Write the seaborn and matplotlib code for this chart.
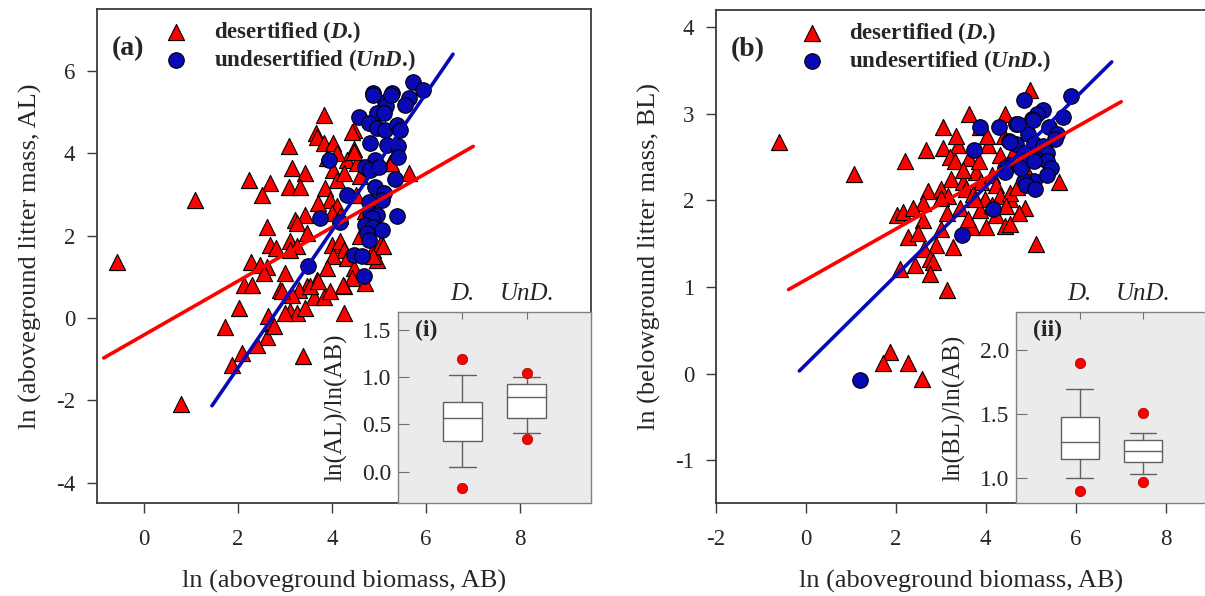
import numpy as np
import pandas as pd
import matplotlib
matplotlib.use("Agg")
import matplotlib.pyplot as plt
import seaborn as sns

# ---------------- data ----------------
# Panel (a): ln(AB) vs ln(AL)
a_des_x = [1.10, 3.82, 3.65, 3.68, 3.82, 4.03, 4.46, 3.08, 4.46, 3.15, 3.43, 2.23, 2.69, 3.08, 3.33,
           2.51, 3.86, 4.03, 4.32, 4.11, 4.25, 4.53, 4.60, 5.63, 5.24, 3.96, 4.11, 4.00, 4.18, 3.43,
           3.22, 3.26, 2.62, 3.47, 3.11, 2.69, 2.80, 3.26, 3.11, 4.00, 4.18, 4.25, 4.03, 4.32, 4.88,
           5.03, 4.96, 2.27, 2.62, 2.48, 2.55, 3.01, 3.89, 4.46, 4.42, 4.71, 2.12, 2.30, 3.68, 3.47,
           3.29, 2.90, 3.15, 3.61, 3.82, 3.96, 4.25, 2.02, 3.11, 3.26, 3.43, 4.25, 1.73, 2.65, 2.73,
           2.62, 2.41, 2.09, 1.87, 2.77, 3.38, 3.01, 0.80, -0.56, 4.43, 4.47, 5.25, 5.08, 4.88, 3.54,
           3.70, 4.23, 2.93, 4.70, 4.60, 4.50, 3.70, 3.90, 4.10]
a_des_y = [2.87, 4.93, 4.49, 4.41, 4.25, 4.25, 4.57, 4.17, 4.10, 3.64, 3.52, 3.36, 3.28, 3.19, 3.19,
           2.99, 3.16, 3.60, 3.84, 3.36, 3.52, 3.76, 3.44, 3.52, 3.76, 2.87, 2.71, 2.55, 2.47, 2.51,
           2.39, 2.30, 2.22, 2.06, 1.86, 1.78, 1.70, 1.74, 1.65, 1.78, 1.86, 1.66, 1.50, 1.46, 1.66,
           1.82, 1.42, 1.37, 1.25, 1.29, 1.10, 1.09, 1.21, 1.21, 0.97, 0.85, 0.81, 0.81, 0.93, 0.77,
           0.69, 0.69, 0.57, 0.52, 0.52, 0.65, 0.77, 0.24, 0.16, 0.12, 0.24, 0.12, -0.22, 0.04, -0.12,
           -0.45, -0.65, -0.85, -1.13, -0.20, -0.93, 0.12, -2.08, 1.37, 4.53, 4.04, 3.76, 1.74, 1.50, 0.77,
           0.89, 0.81, 0.65, 2.60, 2.00, 3.00, 2.80, 3.90, 4.00]
a_und_x = [5.73, 5.94, 4.87, 5.27, 5.13, 5.15, 5.63, 5.56, 4.96, 5.10, 4.57, 4.78, 4.96, 5.13, 5.38,
           5.45, 4.81, 5.17, 5.41, 5.41, 3.93, 4.92, 4.71, 4.81, 4.99, 5.33, 4.92, 4.32, 5.10, 5.06,
           4.78, 4.81, 4.96, 5.38, 3.75, 4.18, 4.85, 4.71, 4.88, 5.06, 4.74, 4.78, 3.48, 4.46, 4.64,
           4.67, 5.25, 4.88]
a_und_y = [5.74, 5.54, 5.46, 5.46, 5.26, 5.15, 5.34, 5.18, 4.98, 4.98, 4.89, 4.73, 4.61, 4.57, 4.69,
           4.57, 4.25, 4.21, 4.17, 3.92, 3.84, 3.84, 3.68, 3.60, 3.68, 3.38, 3.19, 2.99, 3.03, 2.87,
           2.83, 2.55, 2.51, 2.49, 2.42, 2.34, 2.43, 2.26, 2.22, 2.14, 2.06, 1.90, 1.26, 1.54, 1.50,
           1.01, 5.42, 5.42]
a_fit_des_x = [-0.85, 7.00]
a_fit_des_y = [-0.97, 4.17]
a_fit_und_x = [1.45, 6.57]
a_fit_und_y = [-2.13, 6.41]

# Panel (b): ln(AB) vs ln(BL)
b_des_x = [-0.59, 1.08, 2.20, 4.98, 5.11, 3.14, 1.87, 1.72, 2.27, 2.58, 3.05, 3.64, 4.42, 2.68, 3.05,
           3.39, 3.20, 3.31, 3.87, 4.06, 4.02, 4.31, 3.64, 3.24, 3.50, 3.79, 3.90, 4.13, 4.24, 2.72,
           3.01, 3.16, 3.00, 3.57, 3.72, 3.98, 4.31, 4.53, 4.53, 2.61, 2.02, 2.16, 2.38, 2.61, 3.13,
           3.42, 3.87, 4.24, 4.46, 4.87, 3.76, 3.01, 3.69, 4.01, 4.42, 4.53, 2.27, 2.50, 2.90, 3.27,
           2.64, 2.76, 2.83, 2.42, 2.09, 2.76, 5.62, 4.40, 4.60, 4.90, 5.30, 4.70, 3.50, 3.35, 3.85,
           3.60, 4.15, 4.75]
b_des_y = [2.68, 2.30, 2.45, 3.28, 1.50, 0.97, 0.25, 0.12, 0.12, -0.06, 2.85, 3.00, 3.00, 2.58, 2.60,
           2.64, 2.50, 2.46, 2.85, 2.64, 2.74, 2.53, 2.49, 2.25, 2.21, 2.33, 2.21, 2.29, 2.18, 2.11,
           2.13, 2.05, 2.03, 2.13, 2.07, 2.02, 2.05, 2.02, 2.09, 1.97, 1.83, 1.87, 1.91, 1.77, 1.86,
           1.91, 1.89, 1.83, 1.94, 1.91, 2.02, 1.67, 1.69, 1.69, 1.71, 1.73, 1.58, 1.62, 1.48, 1.46,
           1.44, 1.32, 1.29, 1.25, 1.21, 1.15, 2.21, 2.75, 2.55, 2.35, 2.60, 2.15, 2.35, 2.75, 2.45,
           1.78, 1.95, 1.85]
b_und_x = [1.21, 3.48, 4.16, 4.85, 5.90, 5.71, 5.28, 5.15, 5.02, 3.87, 4.30, 4.68, 5.41, 5.58, 5.54,
           4.94, 4.51, 4.68, 5.07, 5.28, 3.74, 5.37, 4.85, 5.11, 4.81, 4.51, 5.37, 5.45, 5.07, 4.85,
           5.37, 4.42, 5.06, 4.72, 4.53, 4.79, 4.90, 5.09, 5.07, 4.42]
b_und_y = [-0.07, 1.60, 1.90, 3.16, 3.21, 2.96, 3.04, 3.00, 2.94, 2.85, 2.85, 2.88, 2.85, 2.77, 2.71,
           2.77, 2.69, 2.65, 2.65, 2.63, 2.58, 2.55, 2.55, 2.48, 2.45, 2.41, 2.46, 2.38, 2.23, 2.23,
           2.29, 2.38, 2.93, 2.88, 2.68, 2.38, 2.18, 2.13, 2.46, 2.33]
b_fit_des_x = [-0.38, 7.01]
b_fit_des_y = [0.97, 3.14]
b_fit_und_x = [-0.14, 6.80]
b_fit_und_y = [0.03, 3.60]

# Inset box summaries: [low whisker, Q1, median, Q3, high whisker], outliers
groups = ["D.", "UnD."]
i_stats = {"D.": [0.05, 0.32, 0.565, 0.735, 1.02], "UnD.": [0.41, 0.57, 0.79, 0.93, 1.00]}
i_fliers = {"D.": [1.19, -0.17], "UnD.": [1.04, 0.34]}
ii_stats = {"D.": [1.005, 1.147, 1.28, 1.475, 1.70], "UnD.": [1.03, 1.125, 1.215, 1.30, 1.35]}
ii_fliers = {"D.": [1.90, 0.90], "UnD.": [1.51, 0.97]}

# ---------------- style ----------------
sns.set_style("ticks")
plt.rcParams["font.family"] = ["Liberation Serif", "DejaVu Serif"]
plt.rcParams["mathtext.fontset"] = "custom"
plt.rcParams["mathtext.it"] = "Liberation Serif:italic:bold"
plt.rcParams["mathtext.rm"] = "Liberation Serif:bold"
plt.rcParams["mathtext.bf"] = "Liberation Serif:bold"

RED = "#FF0000"
BLUE = "#0A0AB4"
SPINE = "#3a3a3a"

fig = plt.figure(figsize=(12.05, 5.96), dpi=100)
ax_a = fig.add_axes([0.0802, 0.1555, 0.4102, 0.8289])
ax_b = fig.add_axes([0.5939, 0.1555, 0.4075, 0.8277])
in_a = fig.add_axes([0.3303, 0.1555, 0.1602, 0.3215])
in_b = fig.add_axes([0.8432, 0.1555, 0.1582, 0.3215])


def main_panel(ax, dx, dy, ux, uy, fdx, fdy, fux, fuy, xlim, ylim, xticks, yticks, ylabel, tag):
    sns.scatterplot(x=dx, y=dy, ax=ax, marker="^", s=135, color=RED, edgecolor="black",
                    linewidth=0.8, zorder=3, label="desertified ($\\mathit{D}$.)")
    sns.scatterplot(x=ux, y=uy, ax=ax, marker="o", s=125, color=BLUE, edgecolor="black",
                    linewidth=0.8, zorder=4, label="undesertified ($\\mathit{UnD}$.)")
    sns.lineplot(x=fdx, y=fdy, ax=ax, color=RED, lw=2.6, zorder=5, legend=False)
    sns.lineplot(x=fux, y=fuy, ax=ax, color=BLUE, lw=2.6, zorder=5, legend=False)
    ax.set_xlim(*xlim)
    ax.set_ylim(*ylim)
    ax.set_xticks(xticks)
    ax.set_yticks(yticks)
    ax.set_xticklabels([f"{t:g}" for t in xticks])
    ax.set_yticklabels([f"{t:g}" for t in yticks])
    ax.tick_params(direction="out", length=7.5, width=1.0, color=SPINE, labelsize=16.5)
    ax.tick_params(axis="x", pad=11)
    ax.tick_params(axis="y", pad=8)
    for s in ax.spines.values():
        s.set_color(SPINE)
        s.set_linewidth(1.3)
    ax.set_xlabel("ln (aboveground biomass, AB)", fontsize=19, labelpad=14)
    ax.set_ylabel(ylabel, fontsize=19, labelpad=10)
    ax.text(0.03, 0.92, tag, transform=ax.transAxes, fontsize=20, fontweight="bold",
            va="center", ha="left")


main_panel(ax_a, a_des_x, a_des_y, a_und_x, a_und_y, a_fit_des_x, a_fit_des_y, a_fit_und_x,
           a_fit_und_y, (-1, 9.5), (-4.5, 7.5), [0, 2, 4, 6, 8], [-4, -2, 0, 2, 4, 6],
           "ln (aboveground litter mass, AL)", "(a)")
main_panel(ax_b, b_des_x, b_des_y, b_und_x, b_und_y, b_fit_des_x, b_fit_des_y, b_fit_und_x,
           b_fit_und_y, (-2, 8.91), (-1.5, 4.2), [-2, 0, 2, 4, 6, 8], [-1, 0, 1, 2, 3, 4],
           "ln (belowground litter mass, BL)", "(b)")

for ax, xanchor in ((ax_a, 0.137), (ax_b, 0.172)):
    ax.legend(loc="upper left", bbox_to_anchor=(xanchor, 0.98), frameon=False,
              prop={"size": 16.5, "weight": "bold"}, handlelength=1.0, handletextpad=1.15,
              borderpad=0, borderaxespad=0, labelspacing=0.1)


def inset(ax, stats, fliers, ylim, yticks, ylabel, tag):
    bxp = []
    for g in groups:
        lo, q1, med, q3, hi = stats[g]
        bxp.append(dict(whislo=lo, q1=q1, med=med, q3=q3, whishi=hi, fliers=fliers[g], label=g))
    gray = "#606060"
    ax.bxp(bxp, positions=[1, 2], widths=0.6, patch_artist=True, showfliers=True,
           boxprops=dict(facecolor="white", edgecolor=gray, linewidth=1.0),
           medianprops=dict(color=gray, linewidth=1.0),
           whiskerprops=dict(color=gray, linewidth=1.0),
           capprops=dict(color=gray, linewidth=1.0), capwidths=0.42,
           flierprops=dict(marker="o", markerfacecolor=RED, markeredgecolor="#A00000",
                           markeredgewidth=0.5, markersize=7.5))
    ax.set_facecolor("#EBEBEB")
    ax.set_xlim(0, 3)
    ax.set_ylim(*ylim)
    ax.set_yticks(yticks)
    ax.set_yticklabels([f"{t:.1f}" for t in yticks])
    ax.xaxis.tick_top()
    ax.set_xticks([1, 2])
    ax.set_xticklabels(groups, fontstyle="italic")
    ax.tick_params(axis="x", direction="in", length=5, color="#707070", labelsize=18, pad=5)
    ax.tick_params(axis="y", direction="in", length=8, color="#707070", labelsize=17, pad=5)
    for s in ax.spines.values():
        s.set_color("#808080")
        s.set_linewidth(1.0)
    ax.set_ylabel(ylabel, fontsize=18, labelpad=10)
    ax.text(0.09, 0.9, tag, transform=ax.transAxes, fontsize=17, fontweight="bold",
            va="center", ha="left")


inset(in_a, i_stats, i_fliers, (-0.335, 1.69), [0.0, 0.5, 1.0, 1.5], "ln(AL)/ln(AB)", "(i)")
inset(in_b, ii_stats, ii_fliers, (0.805, 2.3), [1.0, 1.5, 2.0], "ln(BL)/ln(AB)", "(ii)")

fig.savefig("out.png", dpi=100)
